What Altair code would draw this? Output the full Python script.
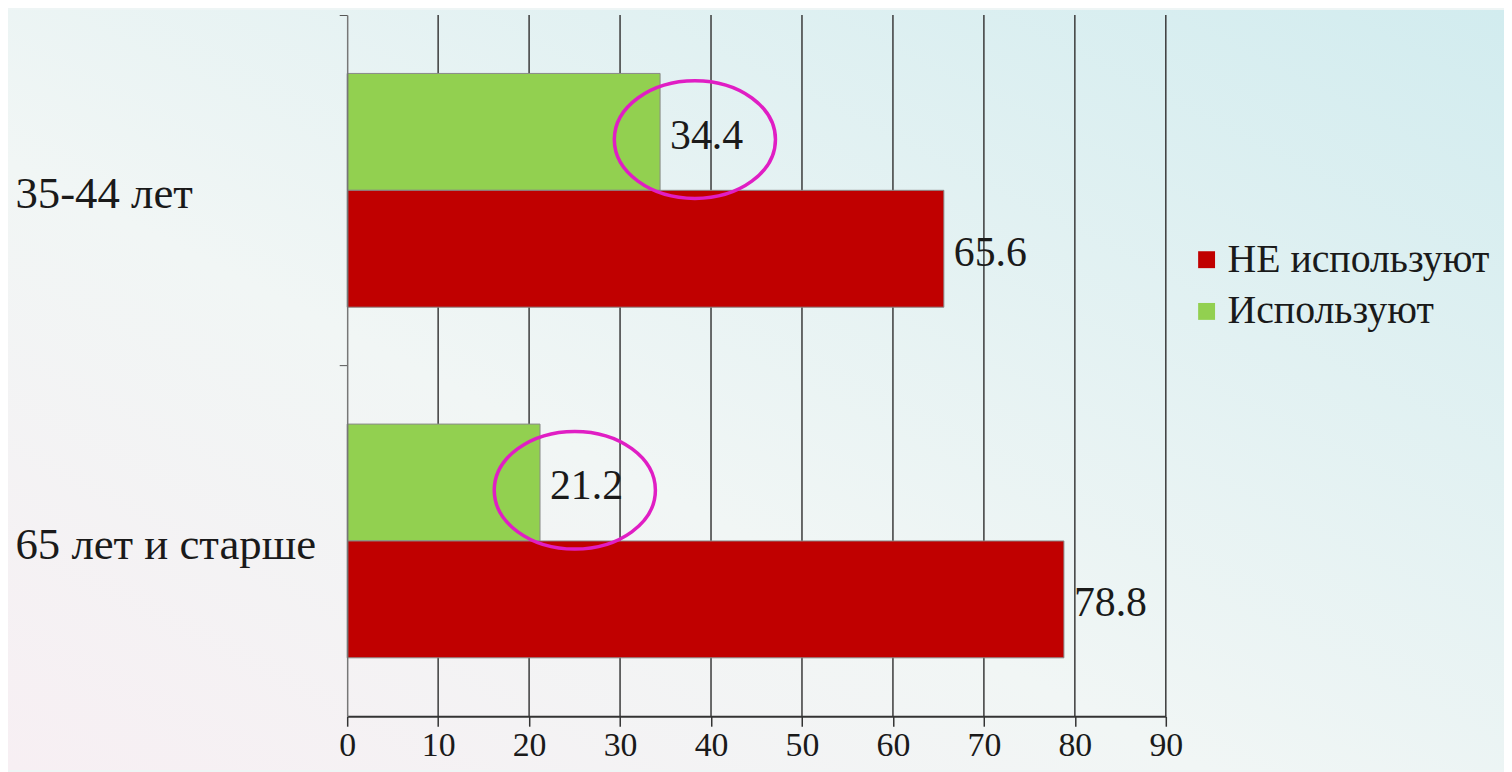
import altair as alt
import pandas as pd

categories = ["35-44 лет", "65 лет и старше"]
series_names = ["НЕ используют", "Используют"]
uses = [34.4, 21.2]
not_uses = [65.6, 78.8]
x_ticks = [0, 10, 20, 30, 40, 50, 60, 70, 80, 90]
colors = ["#C00000", "#92D050"]

rows = []
for c, u, n in zip(categories, uses, not_uses):
    rows.append({"cat": c, "series": series_names[1], "value": u})
    rows.append({"cat": c, "series": series_names[0], "value": n})
df = pd.DataFrame(rows)
grid_df = pd.DataFrame({"tick": x_ticks[1:]})

FONT = "Liberation Serif, Times New Roman, serif"
W, H = 823, 705

xscale = alt.Scale(domain=[0, 90], nice=False, zero=True)
yscale = alt.Scale(domain=categories, paddingInner=0, paddingOuter=0)
yoff_scale = alt.Scale(domain=[series_names[1], series_names[0]], paddingInner=0, paddingOuter=0.5)

bg = alt.Chart(alt.Data(values=[{}])).mark_rect(
    fill=alt.Gradient(
        gradient="linear",
        stops=[
            alt.GradientStop(color="#f7eff3", offset=0),
            alt.GradientStop(color="#f1f6f5", offset=0.4),
            alt.GradientStop(color="#d2ecef", offset=1),
        ],
        x1=0, y1=1, x2=1, y2=0,
    )
).encode(
    x=alt.value(-341), x2=alt.value(1163), y=alt.value(-5), y2=alt.value(759)
)

grid = alt.Chart(grid_df).mark_rule(color="#3a3a3a", strokeWidth=1.5).encode(
    x=alt.X("tick:Q", scale=xscale),
    y=alt.value(0), y2=alt.value(H),
)

base = alt.Chart(df)

bars = base.mark_bar(stroke="#8a8a8a", strokeWidth=1).encode(
    x=alt.X("value:Q", scale=xscale,
            axis=alt.Axis(values=x_ticks, title=None, grid=False, zindex=2,
                          domainColor="#333333", domainWidth=2,
                          tickColor="#333333", tickSize=10, tickWidth=1.5,
                          labelFont=FONT, labelFontSize=34, labelColor="#1a1a1a",
                          labelPadding=2, labelFlush=False)),
    y=alt.Y("cat:N", scale=yscale, sort=categories,
            axis=alt.Axis(title=None, bandPosition=0, labelOffset=4, zindex=2,
                          labelAlign="left", labelBaseline="middle",
                          labelPadding=326, tickSize=8, tickColor="#555555",
                          domainColor="#777777", domainWidth=1.5,
                          labelFont=FONT, labelFontSize=45, labelColor="#1a1a1a",
                          labelLimit=400)),
    yOffset=alt.YOffset("series:N", scale=yoff_scale),
    color=alt.Color("series:N",
                    scale=alt.Scale(domain=series_names, range=colors),
                    legend=alt.Legend(title=None, orient="none", legendX=844, legendY=226,
                                      symbolType="square", symbolSize=289,
                                      symbolStrokeWidth=0, labelFont=FONT,
                                      labelFontSize=40, labelColor="#1a1a1a",
                                      rowPadding=12, labelOffset=1, labelLimit=400)),
)

labels = base.mark_text(align="left", baseline="middle", dx=10, dy=4,
                        font=FONT, fontSize=42, color="#1a1a1a").encode(
    x=alt.X("value:Q", scale=xscale),
    y=alt.Y("cat:N", scale=yscale, sort=categories),
    yOffset=alt.YOffset("series:N", scale=yoff_scale),
    text=alt.Text("value:Q", format=".1f"),
)

ellipse_path = "M -1 0 A 1 0.73 0 1 0 1 0 A 1 0.73 0 1 0 -1 0 Z"
ellipses = base.transform_filter(
    alt.datum.series == series_names[1]
).mark_point(shape=ellipse_path, size=26244, filled=False, stroke="#e01ec4",
             strokeWidth=3.5, opacity=1, xOffset=35, yOffset=-51).encode(
    x=alt.X("value:Q", scale=xscale),
    y=alt.Y("cat:N", scale=yscale, sort=categories),
)

chart = alt.layer(bg, grid, bars, labels, ellipses).properties(
    width=W, height=H, padding=0, background="#eef5f5"
).configure_view(stroke=None)

chart.save("out.html", embed_options={"renderer": "svg", "actions": False})
